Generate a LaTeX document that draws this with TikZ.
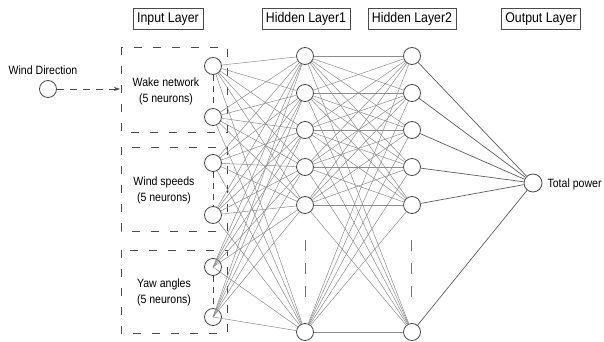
\documentclass[tikz,border=0pt]{standalone}
\usepackage{fontspec}
\setmainfont{Liberation Sans}[FakeStretch=0.88]
\usetikzlibrary{arrows.meta}
\definecolor{linegray}{HTML}{8C8C8C}
\definecolor{nodegray}{HTML}{4A4A4A}
\begin{document}
\begin{tikzpicture}[x=1pt,y=-1pt,
  neuron/.style={circle,draw=nodegray,line width=0.8pt,minimum size=17pt,inner sep=0pt},
  conn/.style={draw=linegray,line width=0.5pt},
  outconn/.style={draw=nodegray!90,line width=0.7pt},
  titlebox/.style={draw=nodegray,line width=0.6pt,inner xsep=4pt,minimum height=21pt,font=\fontsize{14}{16}\selectfont},
  lbl/.style={font=\fontsize{12}{16}\selectfont,align=center},
  groupbox/.style={draw=nodegray,line width=0.7pt,dash pattern=on 8pt off 11pt},
  gapdash/.style={draw=nodegray,line width=0.7pt,dash pattern=on 6pt off 5pt},
  coldash/.style={draw=nodegray!80,line width=0.7pt,dash pattern=on 11pt off 12pt}]
\useasboundingbox (0,0) rectangle (604,342);
% titles
\node[titlebox] (tin) at (168,19) {Input Layer};
\node[titlebox] (th1) at (306,19) {Hidden Layer1};
\node[titlebox] (th2) at (412,19) {Hidden Layer2};
\node[titlebox] (tout) at (541,19) {Output Layer};
% group boxes
\draw[groupbox] (121,47) rectangle (227,132);
\draw[groupbox] (121,147) rectangle (227,231);
\draw[groupbox] (121,250) rectangle (227,333);
\node[lbl] (lw) at (166,91) {Wake network\\(5 neurons)};
\node[lbl] (ls) at (164,190) {Wind speeds\\(5 neurons)};
\node[lbl] (ly) at (164,292) {Yaw angles\\(5 neurons)};
% input neurons
\node[neuron] (i1) at (213,66) {};
\node[neuron] (i2) at (213,117) {};
\node[neuron] (i3) at (213,163) {};
\node[neuron] (i4) at (213,215) {};
\node[neuron] (i5) at (213,267) {};
\node[neuron] (i6) at (213,317) {};
\draw[gapdash] (i1) -- (i2);
\draw[gapdash] (i3) -- (i4);
\draw[gapdash] (i5) -- (i6);
% hidden layers
\foreach \n/\y in {1/56,2/93,3/130,4/167,5/205,6/332}{
  \node[neuron] (h\n) at (305,\y) {};
  \node[neuron] (g\n) at (412,\y) {};
}
\coordinate (hd1) at (305,240); \coordinate (hd2) at (305,300);
\coordinate (gd1) at (411,240); \coordinate (gd2) at (411,300);
\draw[coldash] (hd1) -- (hd2);
\draw[coldash] (gd1) -- (gd2);
% output
\node[neuron,minimum size=18pt] (o) at (533,183) {};
\node[lbl,anchor=west] (lo) at (544,184) {Total power};
% wind direction
\node[neuron] (wd) at (48,89) {};
\node[lbl] (lwd) at (43,70) {Wind Direction};
\coordinate (wdend) at (120,89);
\draw[draw=nodegray,line width=0.7pt,dash pattern=on 7pt off 6pt,-{Stealth[length=6pt,width=4pt]}] (wd) -- (wdend);
% connections
\foreach \a in {1,...,4}{\foreach \b in {1,...,6}{\draw[conn] (i\a) -- (h\b);}}
\foreach \a in {5,6}{\foreach \b in {1,...,6}{\draw[conn] (i\a.center) -- (h\b);}}
\foreach \a in {1,...,6}{\foreach \b in {1,...,6}{\draw[conn] (h\a) -- (g\b);}}
\foreach \a in {1,...,6}{\draw[outconn] (g\a) -- (o);}
\end{tikzpicture}
\end{document}
